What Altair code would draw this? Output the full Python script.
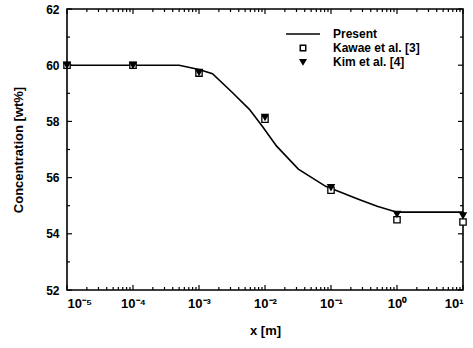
import altair as alt
import pandas as pd

# Present model curve
curve_x = [1e-5, 1e-4, 5e-4, 1e-3, 1.6e-3, 3.2e-3, 5.8e-3, 9.1e-3, 1.5e-2, 3.2e-2, 8.3e-2, 0.26, 0.5, 1.0, 10.0]
curve_y = [60.0, 60.0, 60.0, 59.85, 59.7, 59.03, 58.43, 57.83, 57.12, 56.30, 55.69, 55.23, 54.98, 54.77, 54.77]

pts_x = [1e-5, 1e-4, 1e-3, 1e-2, 1e-1, 1.0, 10.0]
kawae_y = [60.0, 60.0, 59.72, 58.08, 55.55, 54.5, 54.42]
kim_y = [60.0, 60.0, 59.75, 58.15, 55.65, 54.7, 54.65]

series_names = ["Present", "Kawae et al. [3]", "Kim et al. [4]"]
y_major = [52, 54, 56, 58, 60, 62]
y_minor = [53, 55, 57, 59, 61]
x_major = [1e-5, 1e-4, 1e-3, 1e-2, 1e-1, 1.0, 10.0]
x_minor = [m * d for d in [1e-5, 1e-4, 1e-3, 1e-2, 1e-1, 1.0] for m in range(2, 10)]

W, H = 396, 281
FONT = "Liberation Sans"
TICK_COLOR = "black"

xs = alt.Scale(type="log", domain=[1e-5, 10], nice=False)
ys = alt.Scale(domain=[52, 62], nice=False)

curve_df = pd.DataFrame({"x": curve_x, "y": curve_y})
pts_df = pd.DataFrame(
    {"x": pts_x * 2, "y": kawae_y + kim_y,
     "series": [series_names[1]] * len(pts_x) + [series_names[2]] * len(pts_x)}
)

line = alt.Chart(curve_df).mark_line(color="black", strokeWidth=1.6).encode(
    x=alt.X("x:Q", scale=xs,
            axis=alt.Axis(values=x_major, ticks=False, domain=False, grid=False,
                          labelExpr="['10⁻⁵','10⁻⁴','10⁻³','10⁻²','10⁻¹','10⁰','10¹'][round(log(datum.value)/LN10)+5]",
                          labelFont=FONT, labelFontWeight="bold", labelFontSize=13,
                          labelPadding=7, labelColor="black",
                          title="x [m]", titleFont=FONT, titleFontWeight="bold",
                          titleFontSize=13, titlePadding=14, titleColor="black")),
    y=alt.Y("y:Q", scale=ys,
            axis=alt.Axis(values=y_major, ticks=False, domain=False, grid=False,
                          labelFont=FONT, labelFontWeight="bold", labelFontSize=12,
                          labelPadding=8, labelColor="black",
                          title="Concentration [wt%]", titleFont=FONT, titleFontWeight="bold",
                          titleFontSize=13, titlePadding=20, titleColor="black")),
)

leg = alt.Legend(title=None, orient="none", legendX=230, legendY=19,
                 labelFont=FONT, labelFontWeight="bold", labelFontSize=12,
                 labelColor="black", labelOffset=24, rowPadding=2,
                 symbolSize=30, symbolStrokeWidth=1.5)

points = alt.Chart(pts_df).mark_point(size=40, strokeWidth=1.3, opacity=1).encode(
    x=alt.X("x:Q", scale=xs),
    y=alt.Y("y:Q", scale=ys),
    shape=alt.Shape("series:N",
                    scale=alt.Scale(domain=series_names,
                                    range=["M-6.2,0L6.2,0", "square", "triangle-down"]),
                    legend=leg),
    fill=alt.Fill("series:N",
                  scale=alt.Scale(domain=series_names, range=["black", "white", "black"]),
                  legend=leg),
    stroke=alt.Stroke("series:N",
                      scale=alt.Scale(domain=series_names, range=["black", "black", "black"]),
                      legend=leg),
)

# inward tick marks
def yticks(vals, ln):
    df = pd.DataFrame({"ty": vals})
    base = alt.Chart(df).mark_rule(color=TICK_COLOR, strokeWidth=1.2)
    left = base.encode(y=alt.Y("ty:Q", scale=ys), x=alt.value(0), x2=alt.value(ln))
    right = base.encode(y=alt.Y("ty:Q", scale=ys), x=alt.value(W), x2=alt.value(W - ln))
    return [left, right]

def xticks(vals, ln):
    df = pd.DataFrame({"tx": vals})
    base = alt.Chart(df).mark_rule(color=TICK_COLOR, strokeWidth=1.2)
    bottom = base.encode(x=alt.X("tx:Q", scale=xs), y=alt.value(H), y2=alt.value(H - ln))
    top = base.encode(x=alt.X("tx:Q", scale=xs), y=alt.value(0), y2=alt.value(ln))
    return [bottom, top]

layers = yticks(y_major, 5) + yticks(y_minor, 3) + xticks(x_major, 5) + xticks(x_minor, 3) + [line, points]

chart = alt.layer(*layers).properties(
    width=W, height=H,
    autosize=alt.AutoSizeParams(type="none"),
    padding={"left": 67, "top": 9, "right": 10, "bottom": 58},
    background="white",
).configure_view(stroke="black", strokeWidth=1.6)

chart.save("out.html", embed_options={"renderer": "svg", "actions": False})
